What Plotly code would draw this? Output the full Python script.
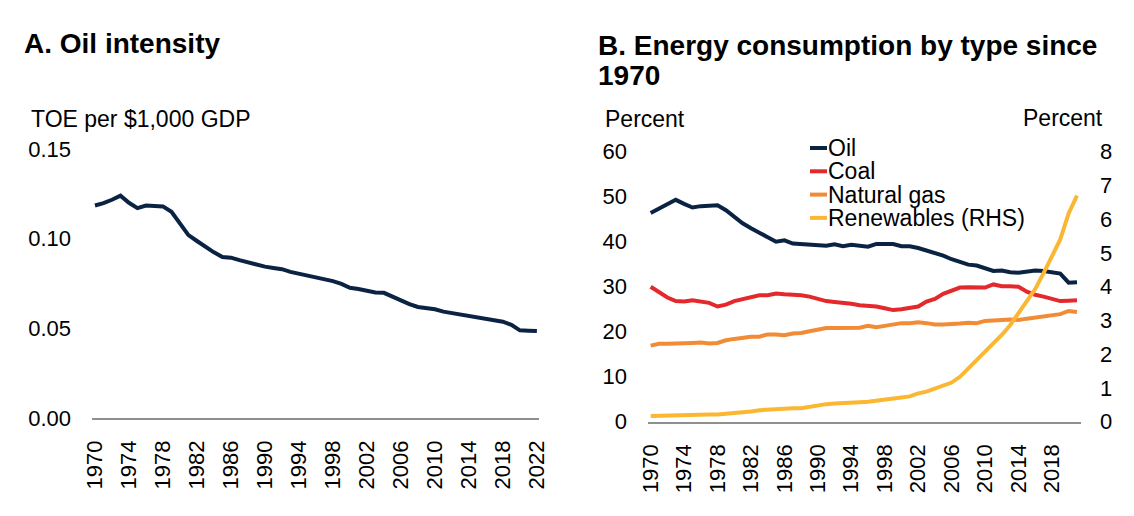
import plotly.graph_objects as go

# ---------------- data ----------------
years_a = list(range(1970, 2023))
oil_intensity = [0.1185, 0.1198, 0.1217, 0.1240, 0.1200, 0.1170, 0.1185, 0.1180, 0.1180, 0.1150,
                 0.1080, 0.1020, 0.0987, 0.0954, 0.0924, 0.0898, 0.0894, 0.0880, 0.0867, 0.0854,
                 0.0844, 0.0837, 0.0830, 0.0815, 0.0804, 0.0793, 0.0785, 0.0776, 0.0763, 0.0748,
                 0.0726, 0.0719, 0.0709, 0.0700, 0.0698, 0.0676, 0.0654, 0.0635, 0.0619, 0.0615,
                 0.0606, 0.0593, 0.0585, 0.0576, 0.0565, 0.0559, 0.0554, 0.0546, 0.0537, 0.0520,
                 0.0489, 0.0487, 0.0485]

years_b = list(range(1970, 2022))
oil_share = [46.4, 47.3, 48.3, 49.3, 48.4, 47.6, 47.9, 47.9, 48.1, 47.0,
             45.6, 44.1, 43.0, 42.1, 41.0, 40.0, 40.3, 39.6, 39.5, 39.4,
             39.4, 39.1, 39.4, 39.0, 39.3, 39.2, 38.9, 39.5, 39.5, 39.5,
             39.0, 39.0, 38.6, 38.1, 37.6, 36.9, 36.1, 35.6, 34.9, 34.7,
             34.1, 33.5, 33.6, 33.2, 33.1, 33.4, 33.6, 33.5, 33.2, 32.9,
             30.9, 31.0]
coal_share = [30.0, 28.7, 27.6, 26.8, 26.7, 27.0, 26.6, 26.4, 25.6, 26.0,
              26.8, 27.3, 27.7, 28.1, 28.1, 28.5, 28.3, 28.3, 28.1, 27.8,
              27.3, 26.8, 26.6, 26.5, 26.2, 25.9, 25.8, 25.6, 25.2, 24.8,
              25.0, 25.2, 25.6, 26.7, 27.3, 28.4, 29.0, 29.8, 29.9, 29.9,
              29.8, 30.5, 30.1, 30.1, 30.0, 28.9, 28.2, 27.8, 27.3, 26.8,
              26.9, 27.0]
gas_share = [16.9, 17.3, 17.3, 17.3, 17.5, 17.5, 17.6, 17.4, 17.5, 18.1,
             18.4, 18.7, 18.9, 18.9, 19.4, 19.4, 19.2, 19.6, 19.7, 20.1,
             20.5, 20.8, 20.8, 20.8, 20.7, 20.9, 21.3, 21.0, 21.3, 21.6,
             21.9, 21.9, 22.1, 21.9, 21.6, 21.6, 21.6, 21.8, 22.0, 21.9,
             22.4, 22.4, 22.6, 22.7, 22.6, 22.9, 23.1, 23.3, 23.7, 23.9,
             24.6, 24.4]
renew_share = [0.17, 0.18, 0.18, 0.19, 0.19, 0.20, 0.20, 0.21, 0.21, 0.23,
               0.25, 0.26, 0.30, 0.34, 0.36, 0.37, 0.40, 0.40, 0.40, 0.45,
               0.50, 0.52, 0.54, 0.56, 0.57, 0.58, 0.59, 0.63, 0.66, 0.69,
               0.72, 0.75, 0.84, 0.89, 0.97, 1.06, 1.16, 1.33, 1.57, 1.83,
               2.05, 2.29, 2.57, 2.86, 3.21, 3.58, 3.93, 4.40, 4.89, 5.40,
               6.17, 6.70]

series_names = ["Oil", "Coal", "Natural gas", "Renewables (RHS)"]

ticks_a = list(range(1970, 2023, 4))
ticks_b = list(range(1970, 2019, 4))
yticks_a = [0.00, 0.05, 0.10, 0.15]
yticks_b = [0, 10, 20, 30, 40, 50, 60]
yticks_b2 = [0, 1, 2, 3, 4, 5, 6, 7, 8]

# ---------------- style ----------------
FONT = "Liberation Sans, Arial, sans-serif"
NAVY = "#0b2343"
RED = "#e4292c"
ORANGE = "#f28b36"
YELLOW = "#fbb732"
AXIS = "#8f8f8f"
W, H = 1134, 516
colors = [NAVY, RED, ORANGE, YELLOW]

fig = go.Figure()
fig.add_trace(go.Scatter(x=years_a, y=oil_intensity, mode="lines", line=dict(color=NAVY, width=4),
                         xaxis="x", yaxis="y", name="Oil intensity"))
for vals, name, col, ya in zip([oil_share, coal_share, gas_share, renew_share], series_names, colors,
                               ["y2", "y2", "y2", "y3"]):
    fig.add_trace(go.Scatter(x=years_b, y=vals, mode="lines", line=dict(color=col, width=4),
                             xaxis="x2", yaxis=ya, name=name))

tickfont = dict(family=FONT, size=22, color="#000000")
xcommon = dict(showgrid=False, zeroline=False, showline=True, linecolor=AXIS, linewidth=1.5,
               ticks="", tickangle=-90, tickfont=tickfont, ticklabelstandoff=12, fixedrange=True,
               automargin=False)
ycommon = dict(showgrid=False, zeroline=False, showline=False, ticks="", tickfont=tickfont,
               fixedrange=True, automargin=False)

fig.update_layout(
    template="none",
    width=W, height=H,
    margin=dict(l=0, r=0, t=0, b=0, pad=0),
    paper_bgcolor="white", plot_bgcolor="white",
    font=dict(family=FONT, color="#000000"),
    showlegend=False,
    xaxis=dict(xcommon, domain=[92 / W, 539 / W], range=[1969.65, 2022.25],
               tickmode="array", tickvals=ticks_a, ticktext=[str(t) for t in ticks_a], anchor="y"),
    yaxis=dict(ycommon, domain=[1 - 418 / H, 1 - 149 / H], range=[0, 0.15],
               tickmode="array", tickvals=yticks_a, ticktext=[f"{v:.2f}" for v in yticks_a],
               anchor="x", ticklabelstandoff=20),
    xaxis2=dict(xcommon, domain=[648 / W, 1081 / W], range=[1969.68, 2021.48],
                tickmode="array", tickvals=ticks_b, ticktext=[str(t) for t in ticks_b], anchor="y2"),
    yaxis2=dict(ycommon, domain=[1 - 421.7 / H, 1 - 151.7 / H], range=[0, 60],
                tickmode="array", tickvals=yticks_b, ticktext=[str(v) for v in yticks_b],
                anchor="x2", ticklabelstandoff=20),
    yaxis3=dict(ycommon, domain=[1 - 421.7 / H, 1 - 151.7 / H], range=[0, 8],
                tickmode="array", tickvals=yticks_b2, ticktext=[str(v) for v in yticks_b2],
                anchor="x2", overlaying="y2", side="right", ticklabelstandoff=18),
)

def note(text, x, y, size=23, bold=False, xanchor="left"):
    fig.add_annotation(text=f"<b>{text}</b>" if bold else text, x=x / W, y=1 - y / H,
                       xref="paper", yref="paper", xanchor=xanchor, yanchor="middle",
                       showarrow=False, font=dict(family=FONT, size=size, color="#000000"))

note("A. Oil intensity", 22, 43, size=28, bold=True)
note("B. Energy consumption by type since", 596, 45, size=28, bold=True)
note("1970", 596, 75, size=28, bold=True)
note("TOE per $1,000 GDP", 29, 119)
note("Percent", 603, 119)
note("Percent", 1105, 118, xanchor="right")

# compact legend (key line + label), one row per series
for i, (name, col) in enumerate(zip(series_names, colors)):
    yc = 148 + i * 23.3
    fig.add_shape(type="line", xref="paper", yref="paper", x0=810 / W, x1=827 / W,
                  y0=1 - yc / H, y1=1 - yc / H, line=dict(color=col, width=4))
    note(name, 826, yc)

fig.write_html("out.html", config={"displayModeBar": False},
               post_script="document.body.style.margin='0';")
